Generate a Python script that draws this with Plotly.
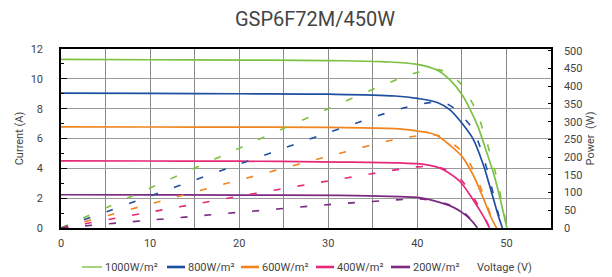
import plotly.graph_objects as go

# ---- data ----
irradiance = ["1000W/m²", "800W/m²", "600W/m²", "400W/m²", "200W/m²"]
colors = ["#7dc142", "#1f4fa0", "#f0851f", "#e6287a", "#7b2a82"]

v_1000 = [0, 10, 20, 30, 36, 40, 42.3, 43.6, 45, 46, 46.8, 47.75, 48.7, 49.45, 50.05]
i_1000 = [11.3, 11.28, 11.26, 11.22, 11.15, 10.97, 10.56, 9.96, 8.95, 7.85, 6.8, 5.13, 3.35, 1.56, 0]
p_1000 = [0, 112.8, 225.2, 336.6, 401.4, 438.8, 446.7, 434.3, 402.8, 361.1, 318.2, 245.0, 163.1, 77.1, 0]

v_800 = [0, 10, 20, 30, 37.5, 40, 42.3, 43.6, 45.1, 46.25, 47.4, 48.3, 49.05, 49.55]
i_800 = [9.04, 9.02, 9.0, 8.97, 8.85, 8.69, 8.4, 7.95, 6.95, 5.98, 4.24, 2.45, 0.89, 0]
p_800 = [0, 90.2, 180.0, 269.1, 331.9, 347.6, 355.3, 346.6, 313.4, 276.6, 201.0, 118.3, 43.7, 0]

v_600 = [0, 10, 20, 30, 37.5, 40, 41.4, 42.3, 43.6, 45, 46.25, 47.4, 48.3, 48.9]
i_600 = [6.78, 6.77, 6.76, 6.74, 6.66, 6.5, 6.37, 6.17, 5.58, 4.8, 3.57, 2.0, 0.67, 0]
p_600 = [0, 67.7, 135.2, 202.2, 249.8, 260.0, 263.7, 261.0, 243.3, 216.0, 165.1, 94.8, 32.4, 0]

v_400 = [0, 10, 20, 31.3, 38, 40, 41.4, 42.5, 43.5, 44.8, 46.25, 47.4, 48.1]
i_400 = [4.5, 4.49, 4.48, 4.42, 4.36, 4.31, 4.2, 4.02, 3.7, 3.1, 1.9, 0.8, 0]
p_400 = [0, 44.9, 89.6, 138.3, 165.7, 172.4, 173.9, 170.9, 161.0, 138.9, 87.9, 37.9, 0]

v_200 = [0, 10, 20, 31.3, 38, 40, 42.5, 44, 45, 46, 46.75]
i_200 = [2.23, 2.22, 2.21, 2.19, 2.1, 2.05, 1.72, 1.4, 1.05, 0.55, 0]
p_200 = [0, 22.2, 44.2, 68.5, 79.8, 82.0, 73.1, 61.6, 47.25, 25.3, 0]

x_ticks = [0, 10, 20, 30, 40, 50]
current_ticks = [0, 2, 4, 6, 8, 10, 12]
power_ticks = [0, 50, 100, 150, 200, 250, 300, 350, 400, 450, 500]

series = [
    (v_1000, i_1000, p_1000),
    (v_800, i_800, p_800),
    (v_600, i_600, p_600),
    (v_400, i_400, p_400),
    (v_200, i_200, p_200),
]

FONT = "Roboto"
TXT = "#444444"
OFF = 8                      # page body margin of the html page
W, H = 612 - OFF, 277 - OFF
PL, PR, PT, PB = 61, 551, 49, 228   # plot box in window pixels
ML, MR, MT, MB = PL - OFF, W - (PR - OFF), PT - OFF, H - (PB - OFF)
PW, PH = W - ML - MR, H - MT - MB


def px2paper_x(px):
    return (px - OFF - ML) / PW


def px2paper_y(py):
    return (H - MB - (py - OFF)) / PH


fig = go.Figure()
for (v, i, p), name, c in zip(series, irradiance, colors):
    fig.add_trace(go.Scatter(
        x=v, y=i, mode="lines", name=name,
        line=dict(color=c, width=1.7, shape="spline", smoothing=1.0),
        yaxis="y", showlegend=False))
for (v, i, p), name, c in zip(series, irradiance, colors):
    fig.add_trace(go.Scatter(
        x=v, y=p, mode="lines", name=name + " P",
        line=dict(color=c, width=1.6, dash="7px,17px", shape="spline", smoothing=1.0),
        yaxis="y2", showlegend=False))

# manual legend (layout decoration)
leg_line_x = [(82, 102), (167, 185), (241, 259), (316, 334), (391, 410)]
leg_widths = [1.4, 2.6, 2.6, 2.6, 2.6]
leg_y = px2paper_y(267)
shapes = []
annotations = []
for (x0, x1), lw, c, name in zip(leg_line_x, leg_widths, colors, irradiance):
    shapes.append(dict(type="line", xref="paper", yref="paper",
                       x0=px2paper_x(x0), x1=px2paper_x(x1), y0=leg_y, y1=leg_y,
                       line=dict(color=c, width=lw)))
    annotations.append(dict(text=name, xref="paper", yref="paper", x=px2paper_x(x1 + 1), y=leg_y,
                            xanchor="left", yanchor="middle", showarrow=False,
                            font=dict(size=11, color=TXT)))
annotations.append(dict(text="Voltage (V)", xref="paper", yref="paper", x=px2paper_x(475), y=leg_y,
                        xanchor="left", yanchor="middle", showarrow=False,
                        font=dict(size=11, color=TXT)))

fig.update_layout(
    width=W, height=H,
    margin=dict(l=ML, r=MR, t=MT, b=MB, autoexpand=False),
    paper_bgcolor="white", plot_bgcolor="white",
    font=dict(family=FONT, size=11, color=TXT),
    showlegend=False,
    title=dict(text="GSP6F72M/450W", x=(315 - OFF) / W, xanchor="center",
               y=1 - (19 - OFF) / H, yanchor="middle",
               font=dict(family=FONT, size=20, color=TXT)),
    xaxis=dict(range=[0, 55], tickvals=x_ticks, showgrid=True, gridcolor="#8a8a8a", gridwidth=1,
               minor=dict(dtick=5, showgrid=True, gridcolor="#8a8a8a", gridwidth=1),
               showline=True, linecolor="black", linewidth=1.5, mirror=True,
               ticks="", zeroline=False, tickfont=dict(size=11, color=TXT),
               ticklabelstandoff=4, automargin=False),
    yaxis=dict(range=[0, 12], tickvals=current_ticks, showgrid=True, gridcolor="#9a9a9a", gridwidth=1,
               showline=True, linecolor="black", linewidth=1.5, mirror=False,
               ticks="inside", ticklen=6, tickcolor="black",
               minor=dict(dtick=1, ticks="inside", ticklen=3, tickcolor="black"),
               zeroline=False, tickfont=dict(size=11, color=TXT), ticklabelstandoff=14,
               automargin=False,
               title=dict(text="Current (A)", font=dict(size=11, color=TXT), standoff=5)),
    yaxis2=dict(range=[0, 505], tickvals=power_ticks, overlaying="y", side="right",
                showgrid=False, showline=True, linecolor="black", linewidth=1.5,
                ticks="inside", ticklen=3, tickcolor="black", zeroline=False,
                tickfont=dict(size=11, color=TXT), ticklabelstandoff=9, automargin=False,
                title=dict(text="Power  (W)", font=dict(size=11, color=TXT), standoff=5)),
    shapes=shapes,
    annotations=annotations,
)

fig.write_html("out.html")
